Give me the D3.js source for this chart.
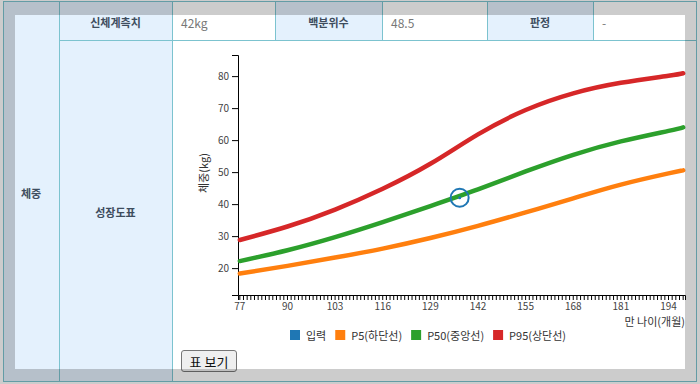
<!DOCTYPE html>
<html>
<head>
<meta charset="utf-8">
<script src="https://cdn.jsdelivr.net/npm/d3@7"></script>
<style>
  body { margin: 0; width: 700px; height: 384px; overflow: hidden; background: #fff;
         font-family: "Noto Sans CJK KR", "Noto Sans", sans-serif; }
  #page { position: absolute; left: 0; top: 0; }
  #tableBtn { position: absolute; left: 181px; top: 350px; width: 56px; height: 22px;
              font-family: "Noto Sans CJK KR", sans-serif; font-size: 13px; color: #111;
              background: #efefef; border: 1px solid #767676; border-radius: 3px; padding: 0; }
  #dim { position: absolute; left: 15px; top: 15px; width: 670px; height: 354px;
         box-shadow: 0 0 0 1000px rgba(0,0,0,0.2); pointer-events: none; }
</style>
</head>
<body>
<div id="page"></div>
<button id="tableBtn">표 보기</button>
<div id="dim"></div>
<script>
const width = 700;
const height = 384;

// data
const months = d3.range(77, 199);
const labelMonths = [77, 90, 103, 116, 129, 142, 155, 168, 181, 194];
const anchorMonths = [77, 90, 103, 116, 129, 142, 155, 168, 181, 194, 198];
const p5 = [18.3, 20.7, 23.3, 26.1, 29.4, 33.2, 37.4, 41.8, 46.1, 49.6, 50.6];
const p50 = [22.2, 25.6, 29.7, 34.4, 39.4, 44.6, 50.2, 55.4, 59.6, 62.9, 64.0];
const p95 = [28.8, 33.0, 38.3, 44.8, 52.6, 61.8, 69.4, 74.6, 77.9, 80.1, 80.9];
const inputMonth = 137;
const inputWeight = 42;
const yTicks = [20, 30, 40, 50, 60, 70, 80];

const legendNames = ["입력", "P5(하단선)", "P50(중앙선)", "P95(상단선)"];
const legendColors = ["#1f77b4", "#ff7f0e", "#2ca02c", "#d62728"];

const headerLabels = ["신체계측치", "백분위수", "판정"];
const headerValues = ["42kg", "48.5", "-"];

const lightBlue = "#e4f1fd";
const lineColor = "#7cc3cf";
const labelColor = "#3e4d5e";

const svg = d3.select("#page")
    .append("svg")
    .attr("width", width)
    .attr("height", height);

// table cells
const colX = [3, 59, 172, 275, 382, 487, 593, 697];
const rowY = [1, 40, 382];

svg.append("rect").attr("x", colX[0]).attr("y", rowY[0])
    .attr("width", colX[1] - colX[0]).attr("height", rowY[2] - rowY[0]).attr("fill", lightBlue);
svg.append("rect").attr("x", colX[1]).attr("y", rowY[0])
    .attr("width", colX[2] - colX[1]).attr("height", rowY[2] - rowY[0]).attr("fill", lightBlue);
for (let i = 0; i < 3; i++) {
    svg.append("rect")
        .attr("x", colX[3 + i * 2]).attr("y", rowY[0])
        .attr("width", colX[4 + i * 2] - colX[3 + i * 2]).attr("height", rowY[1] - rowY[0])
        .attr("fill", lightBlue);
}

// grid lines
const grid = svg.append("g").attr("stroke", lineColor).attr("stroke-width", 1);
grid.append("rect").attr("x", colX[0] + 0.5).attr("y", rowY[0] + 0.5)
    .attr("width", colX[7] - colX[0] - 1).attr("height", rowY[2] - rowY[0] - 1)
    .attr("fill", "none");
grid.append("line").attr("x1", colX[1] + 0.5).attr("x2", colX[1] + 0.5)
    .attr("y1", rowY[0]).attr("y2", rowY[2]);
grid.append("line").attr("x1", colX[2] + 0.5).attr("x2", colX[2] + 0.5)
    .attr("y1", rowY[0]).attr("y2", rowY[2]);
for (let i = 3; i < 7; i++) {
    grid.append("line").attr("x1", colX[i] + 0.5).attr("x2", colX[i] + 0.5)
        .attr("y1", rowY[0]).attr("y2", rowY[1]);
}
grid.append("line").attr("x1", colX[1]).attr("x2", colX[7])
    .attr("y1", rowY[1] + 0.5).attr("y2", rowY[1] + 0.5);

// table texts
svg.append("text").attr("x", (colX[0] + colX[1]) / 2).attr("y", 193)
    .attr("text-anchor", "middle").attr("dominant-baseline", "central")
    .attr("font-size", 11).attr("font-weight", "bold").attr("fill", labelColor).text("체중");
svg.append("text").attr("x", (colX[1] + colX[2]) / 2).attr("y", 22)
    .attr("text-anchor", "middle").attr("dominant-baseline", "central")
    .attr("font-size", 11).attr("font-weight", "bold").attr("fill", labelColor).text(headerLabels[0]);
svg.append("text").attr("x", (colX[1] + colX[2]) / 2).attr("y", 212)
    .attr("text-anchor", "middle").attr("dominant-baseline", "central")
    .attr("font-size", 11).attr("font-weight", "bold").attr("fill", labelColor).text("성장도표");
for (let i = 0; i < 3; i++) {
    svg.append("text").attr("x", colX[2 + i * 2] + 9).attr("y", 22)
        .attr("dominant-baseline", "central")
        .attr("font-size", 12).attr("fill", "#777").text(headerValues[i]);
    if (i > 0) {
        svg.append("text").attr("x", (colX[1 + i * 2] + colX[2 + i * 2]) / 2).attr("y", 22)
            .attr("text-anchor", "middle").attr("dominant-baseline", "central")
            .attr("font-size", 11).attr("font-weight", "bold").attr("fill", labelColor)
            .text(headerLabels[i]);
    }
}

// chart
const x = d3.scaleBand().domain(months).range([238, 685]);
const y = d3.scaleLinear().domain([11.6, 86.6]).range([295, 55]);
const cx = m => x(m) + x.bandwidth() / 2;

const xAxis = svg.append("g")
    .attr("transform", "translate(0,295)")
    .call(d3.axisBottom(x).tickSize(5)
        .tickFormat(m => labelMonths.includes(m) ? m : ""));
const yAxis = svg.append("g")
    .attr("transform", "translate(238,0)")
    .call(d3.axisLeft(y).tickValues(yTicks).tickSize(6));
[xAxis, yAxis].forEach(a => {
    a.selectAll("text").attr("font-size", 10).attr("fill", "#444")
        .attr("font-family", "'Noto Sans CJK KR', sans-serif");
});

svg.append("text")
    .attr("transform", "translate(203,173) rotate(-90)")
    .attr("text-anchor", "middle").attr("dominant-baseline", "central")
    .attr("font-size", 11).attr("fill", "#333").text("체중(kg)");
svg.append("text")
    .attr("x", 685).attr("y", 321)
    .attr("text-anchor", "end").attr("dominant-baseline", "central")
    .attr("font-size", 11).attr("fill", "#333").text("만 나이(개월)");

const line = d3.line()
    .x((d, i) => cx(anchorMonths[i]))
    .y(d => y(d))
    .curve(d3.curveNatural);

[p5, p50, p95].forEach((series, i) => {
    svg.append("path")
        .attr("d", line(series))
        .attr("fill", "none")
        .attr("stroke", legendColors[i + 1])
        .attr("stroke-width", 4.5)
        .attr("stroke-linecap", "round");
});

svg.append("circle")
    .attr("cx", cx(inputMonth)).attr("cy", y(inputWeight)).attr("r", 9)
    .attr("fill", "none").attr("stroke", legendColors[0]).attr("stroke-width", 2);
svg.append("circle")
    .attr("cx", cx(inputMonth)).attr("cy", y(inputWeight)).attr("r", 1.5)
    .attr("fill", legendColors[0]);

// legend
const legend = svg.append("g").attr("transform", "translate(290,335)");
let lx = 0;
legendNames.forEach((name, i) => {
    legend.append("rect").attr("x", lx).attr("y", -5).attr("width", 10).attr("height", 10)
        .attr("fill", legendColors[i]);
    const t = legend.append("text").attr("x", lx + 16).attr("y", 0)
        .attr("dominant-baseline", "central")
        .attr("font-size", 11).attr("fill", "#333").text(name);
    lx += 16 + t.node().getComputedTextLength() + 9;
});
</script>
</body>
</html>
